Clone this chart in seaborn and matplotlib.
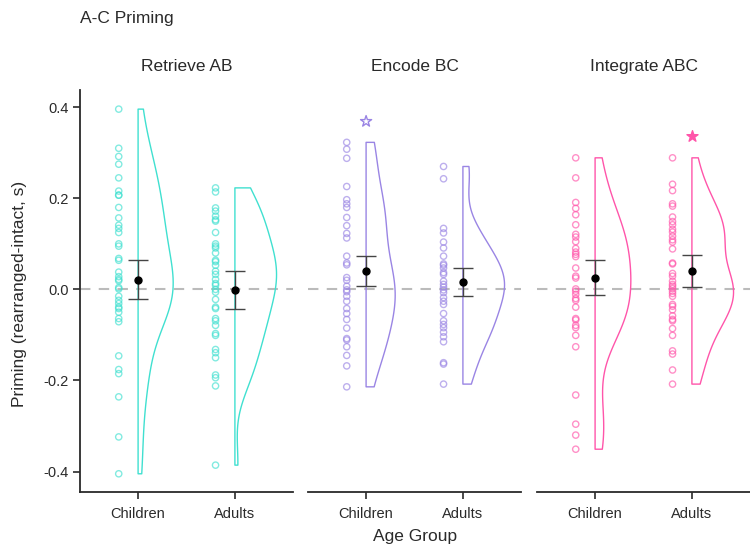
import numpy as np
import pandas as pd
import matplotlib
matplotlib.use("Agg")
import matplotlib.pyplot as plt
import seaborn as sns

# Priming scores (rearranged - intact, s)
retrieve_children = [0.396, 0.310, 0.292, 0.275, 0.245, 0.216, 0.207, 0.207, 0.180, 0.157,
                     0.141, 0.134, 0.125, 0.100, 0.095, 0.068, 0.064, 0.038, 0.028, 0.022,
                     0.019, 0.004, 0.001, -0.015, -0.024, -0.031, -0.039, -0.042, -0.050,
                     -0.064, -0.071, -0.146, -0.176, -0.185, -0.236, -0.324, -0.405]
retrieve_adults = [0.223, 0.214, 0.179, 0.172, 0.161, 0.153, 0.150, 0.125, 0.100, 0.095,
                   0.091, 0.080, 0.064, 0.061, 0.053, 0.040, 0.033, 0.022, 0.013, 0.009,
                   0.000, -0.006, -0.022, -0.039, -0.042, -0.064, -0.069, -0.079, -0.097,
                   -0.101, -0.132, -0.139, -0.150, -0.188, -0.194, -0.212, -0.386]
encode_children = [0.323, 0.308, 0.288, 0.226, 0.197, 0.188, 0.180, 0.158, 0.140, 0.123,
                   0.113, 0.073, 0.058, 0.054, 0.026, 0.020, 0.007, -0.001, -0.005, -0.015,
                   -0.026, -0.042, -0.053, -0.066, -0.085, -0.108, -0.111, -0.126, -0.145,
                   -0.168, -0.214]
encode_adults = [0.270, 0.243, 0.134, 0.124, 0.104, 0.091, 0.073, 0.056, 0.053, 0.047,
                 0.037, 0.033, 0.018, 0.011, 0.005, -0.001, -0.007, -0.018, -0.026, -0.033,
                 -0.053, -0.069, -0.077, -0.084, -0.094, -0.104, -0.115, -0.161, -0.164,
                 -0.208]
integrate_children = [0.289, 0.245, 0.191, 0.178, 0.164, 0.142, 0.121, 0.115, 0.105, 0.090,
                      0.082, 0.077, 0.072, 0.047, 0.029, 0.025, 0.001, -0.004, -0.011, -0.020,
                      -0.024, -0.039, -0.064, -0.067, -0.079, -0.084, -0.101, -0.126, -0.232,
                      -0.296, -0.320, -0.351]
integrate_adults = [0.289, 0.231, 0.217, 0.188, 0.183, 0.159, 0.149, 0.142, 0.132, 0.126,
                    0.117, 0.109, 0.104, 0.089, 0.058, 0.056, 0.035, 0.029, 0.018, 0.011,
                    0.007, 0.002, -0.004, -0.009, -0.015, -0.033, -0.037, -0.045, -0.058,
                    -0.066, -0.069, -0.086, -0.101, -0.135, -0.142, -0.177, -0.208]

tasks = ["Retrieve AB", "Encode BC", "Integrate ABC"]
ages = ["Children", "Adults"]
colors = ["#40E0D0", "#9A85E4", "#FF55AA"]

# group means and interval bounds (Children, Adults) per task
means = [[0.021, -0.001], [0.040, 0.016], [0.026, 0.040]]
ci_low = [[-0.022, -0.044], [0.007, -0.015], [-0.012, 0.006]]
ci_high = [[0.064, 0.040], [0.074, 0.047], [0.064, 0.075]]

# significance markers
sig_task = ["Encode BC", "Integrate ABC"]
sig_age = ["Children", "Adults"]
sig_y = [0.369, 0.338]
sig_filled = [False, True]

groups = {
    ("Retrieve AB", "Children"): retrieve_children,
    ("Retrieve AB", "Adults"): retrieve_adults,
    ("Encode BC", "Children"): encode_children,
    ("Encode BC", "Adults"): encode_adults,
    ("Integrate ABC", "Children"): integrate_children,
    ("Integrate ABC", "Adults"): integrate_adults,
}
rows = []
for (task, age), vals in groups.items():
    for v in vals:
        rows.append({"task": task, "age": age, "priming": v, "side": "dist"})
df = pd.DataFrame(rows)

sns.set_theme(style="white")
plt.rcParams["font.family"] = ["Liberation Sans", "DejaVu Sans"]

fig = plt.figure(figsize=(7.5, 5.46), dpi=100)
W, H = 750, 546
panel_left = [80, 308, 537]
panel_w = 213
top, bottom = 90, 492
ink = "#2a2a2a"

axes = []
for i, task in enumerate(tasks):
    ax = fig.add_axes([panel_left[i] / W, 1 - bottom / H, panel_w / W, (bottom - top) / H])
    axes.append(ax)
    sub = df[df["task"] == task]
    col = colors[i]

    ax.axhline(0, color="#BBBBBB", lw=1.5, ls=(0, (5, 4)), zorder=0)

    # half violins on the right side
    sns.violinplot(data=sub, x="age", y="priming", hue="side", hue_order=["pad", "dist"],
                   order=ages, split=True, dodge=True, inner=None, fill=False, cut=0,
                   width=0.86, gap=0, bw_adjust=0.85, linewidth=1.0,
                   palette={"pad": col, "dist": col}, legend=False, ax=ax)

    # raw points on the left side
    sns.stripplot(data=sub, x="age", y="priming", hue="side", hue_order=["dist", "pad"],
                  order=ages, dodge=True, jitter=False, size=4.5, linewidth=1.0,
                  palette={"pad": col, "dist": col}, legend=False, ax=ax)
    for coll in ax.collections:
        if isinstance(coll, matplotlib.collections.PathCollection):
            coll.set_facecolor("none")
            coll.set_edgecolor(matplotlib.colors.to_rgba(col, 0.65))

    m = np.array(means[i])
    lo = np.array(ci_low[i])
    hi = np.array(ci_high[i])
    ax.errorbar(ages, m, yerr=[m - lo, hi - m], fmt="o", color="black", ms=5,
                ecolor="#444444", elinewidth=1.0, capsize=7, capthick=1.0, zorder=5)

    for t, a, y, filled in zip(sig_task, sig_age, sig_y, sig_filled):
        if t == task:
            ax.scatter([a], [y], marker="*", s=70,
                       facecolor=col if filled else "none", edgecolor=col,
                       linewidth=1.0, zorder=6)

    ax.set_xlim(-0.6, 1.6)
    ax.set_ylim(-0.445, 0.438)
    ax.set_xlabel("")
    ax.set_ylabel("")
    ax.set_title(task, fontsize=12.5, pad=14, color=ink)
    for s in ["top", "right"]:
        ax.spines[s].set_visible(False)
    ax.spines["bottom"].set_color(ink)
    ax.spines["bottom"].set_linewidth(1.3)
    ax.tick_params(axis="x", bottom=True, length=5, width=1.2, color=ink,
                   labelsize=10.5, labelcolor=ink, pad=6)
    if i == 0:
        ax.spines["left"].set_color(ink)
        ax.spines["left"].set_linewidth(1.3)
        ax.set_yticks([-0.4, -0.2, 0.0, 0.2, 0.4])
        ax.set_yticklabels(["-0.4", "-0.2", "0.0", "0.2", "0.4"])
        ax.tick_params(axis="y", left=True, length=5, width=1.2, color=ink,
                       labelsize=10.5, labelcolor=ink, pad=3)
    else:
        ax.spines["left"].set_visible(False)
        ax.set_yticks([])

fig.text(80 / W, 1 - 18 / H, "A-C Priming", fontsize=12.5, ha="left", va="center",
         color=ink)
fig.text(415 / W, 1 - 537 / H, "Age Group", fontsize=12.5, ha="center", va="center",
         color=ink)
fig.text(20 / W, 1 - 294 / H, "Priming (rearranged-intact, s)", fontsize=12.5,
         ha="center", va="center", rotation=90, color=ink)

fig.savefig("out.png", dpi=100)
